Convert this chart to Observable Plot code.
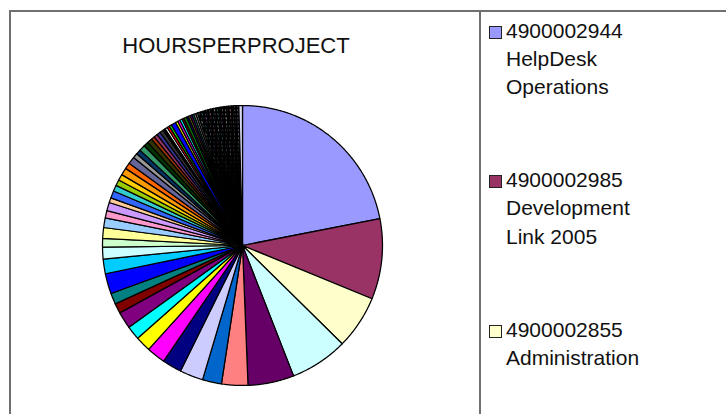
<!DOCTYPE html>
<html><head><meta charset="utf-8">
<script src="https://cdn.jsdelivr.net/npm/d3@7"></script>
<script src="https://cdn.jsdelivr.net/npm/@observablehq/plot@0.6"></script>
<style>
body{margin:0;background:#fff;}
#wrap{position:relative;width:726px;height:414px;overflow:hidden;font-family:Arial,"Liberation Sans",sans-serif;color:#111;}
#chart{position:absolute;left:0;top:0;}
.frame{position:absolute;left:9px;top:10px;width:900px;height:600px;border:2px solid #707070;box-sizing:border-box;}
.divider{position:absolute;left:479px;top:10px;width:2px;height:600px;background:#707070;}
#title{position:absolute;left:236px;top:35px;transform:translateX(-50%);font-size:22px;line-height:22px;white-space:nowrap;}
.item{position:absolute;left:506px;width:148px;font-size:21px;line-height:28.3px;}
.sw{position:absolute;left:-17px;width:11px;height:11px;border:1px solid #222;}
</style></head>
<body>
<svg width="0" height="0" style="position:absolute">
  <defs id="pdefs"></defs>
</svg>
<div id="wrap">
  <div id="chart"></div>
  <div class="frame"></div>
  <div class="divider"></div>
  <div id="title"></div>
  <div id="legend"></div>
</div>
<script>
// Chart title
const chartTitle = "HOURSPERPROJECT";
// Legend entries (visible part of legend)
const legendCodes = ["4900002944", "4900002985", "4900002855"];
const legendNames = ["HelpDesk Operations", "Development Link 2005", "Administration"];
// Hours per project, in pie order (clockwise from 12 o'clock)
const sliceHours = [
  78.8, 33.4, 22.2, 24.0, 19.1, 10.9, 7.9, 9.7, 8.0, 7.8, 6.4, 5.7, 7.0, 4.1, 4.6, 8.4,
  6.0, 5.0, 3.5, 4.5, 4.0, 3.0, 3.5, 2.0, 3.0, 2.5, 2.5, 2.5, 3.0, 2.5, 3.0, 2.0,
  2.0, 2.5, 2.0, 2.0, 1.5, 1.5, 1.5, 1.5, 1.0, 1.0, 1.0, 1.0, 2.0, 1.0, 1.0, 1.0,
  0.8, 1.2, 0.8, 0.8, 0.8, 0.8, 0.8, 0.8,
  1.2, 1.0, 1.2, 1.0, 1.1, 1.0, 1.2, 1.0, 1.1, 1.0, 1.2, 1.0, 1.1, 1.0, 1.0, 1.1, 1.5
];
// Slice fills (Excel palette order, then patterned fills)
const sliceFills = [
  "#9999FF", "#993366", "#FFFFCC", "#CCFFFF", "#660066", "#FF8080", "#0066CC", "#CCCCFF",
  "#000080", "#FF00FF", "#FFFF00", "#00FFFF", "#800080", "#800000", "#008080", "#0000FF",
  "#00CCFF", "#CCFFFF", "#CCFFCC", "#FFFF99", "#99CCFF", "#FF99CC", "#CC99FF", "#FFCC99",
  "#3366FF", "#33CCCC", "#99CC00", "#FFCC00", "#FF9900", "#FF6600", "#666699", "#969696",
  "#003366", "#339966", "#003300", "#333300", "#993300", "#993366", "#333399", "#333333",
  "#000000", "#FFFFFF", "#FF0000", "#00FF00", "#0000FF", "#FFFF00", "#FF00FF", "#00FFFF",
  "#800000", "#008000", "#000080", "#808000", "#800080", "#008080", "#C0C0C0", "#808080",
  "p:#FFFFFF", "p:#66FFFF", "p:#CC99FF", "p:#C0C0C0", "p:#FF99CC", "p:#99CCFF", "p:#FFFFFF", "p:#66FFFF",
  "p:#CC99FF", "p:#C0C0C0", "p:#FFFFFF", "p:#99CCFF", "p:#FF99CC", "p:#C0C0C0", "p:#FFFFFF", "p:#CCCCFF",
  "#D8D8F0"
];

// build dotted patterns for the patterned slices
const defs = document.getElementById("pdefs");
const patternIds = new Map();
sliceFills.forEach(f => {
  if (f.startsWith("p:") && !patternIds.has(f)) {
    const id = "pat" + patternIds.size;
    patternIds.set(f, id);
    const c = f.slice(2);
    defs.insertAdjacentHTML("beforeend",
      `<pattern id="${id}" width="4" height="4" patternUnits="userSpaceOnUse"><rect width="4" height="4" fill="#000"/><rect x="1" y="1" width="1.4" height="1.4" fill="${c}"/></pattern>`);
  }
});
const fillOf = f => f.startsWith("p:") ? `url(#${patternIds.get(f)})` : f;

const arcs = d3.pie().sort(null).value(d => d)(sliceHours);
const pts = [];
arcs.forEach((a, i) => {
  const fill = fillOf(sliceFills[i]);
  const n = Math.max(2, Math.ceil((a.endAngle - a.startAngle) / (Math.PI / 360)));
  pts.push({i, x: 0, y: 0, fill});
  for (let k = 0; k <= n; k++) {
    const t = a.startAngle + (a.endAngle - a.startAngle) * k / n;
    pts.push({i, x: Math.sin(t), y: Math.cos(t), fill});
  }
  pts.push({i, x: 0, y: 0, fill});
});

const chart = Plot.plot({
  width: 726, height: 414,
  marginLeft: 102, marginRight: 344, marginTop: 105, marginBottom: 29,
  x: {domain: [-1, 1], axis: null},
  y: {domain: [-1, 1], axis: null},
  color: {type: "identity"},
  marks: [
    Plot.line(pts, {x: "x", y: "y", z: "i", fill: "fill", stroke: "#000", strokeWidth: 1.25, strokeLinejoin: "round"})
  ]
});
document.getElementById("chart").appendChild(chart);

document.getElementById("title").textContent = chartTitle;
const legend = document.getElementById("legend");
const baselines = [38, 187.5, 337];
legendCodes.forEach((code, i) => {
  const div = document.createElement("div");
  div.className = "item";
  div.style.top = (baselines[i] - 21.4) + "px";
  div.innerHTML = `<div class="sw" style="background:${sliceFills[i]};top:${21.4 - 12}px"></div>${code} ${legendNames[i]}`;
  legend.appendChild(div);
});
</script>
</body></html>
